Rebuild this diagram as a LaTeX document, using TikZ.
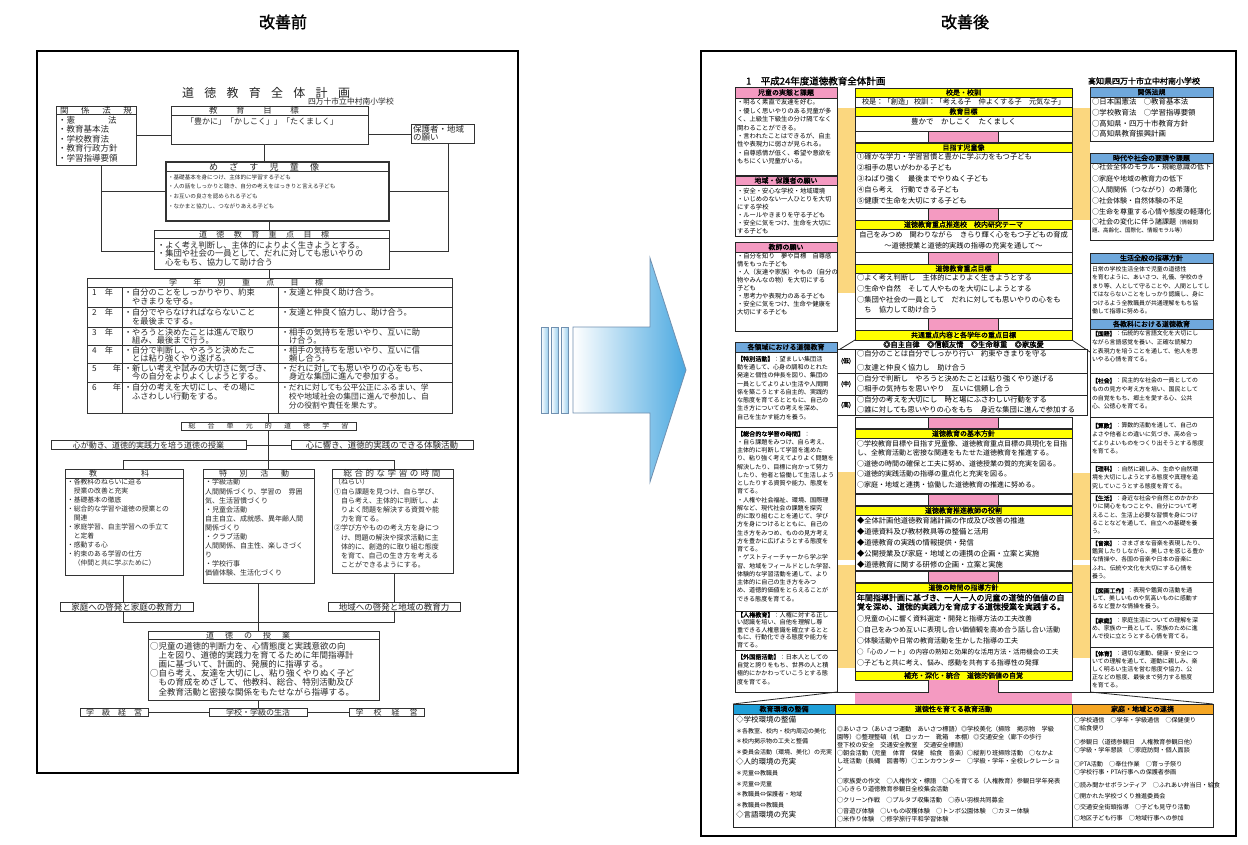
\documentclass[tikz,border=0pt]{standalone}
\usepackage{fontspec}
\setmainfont{Noto Sans CJK JP}[AutoFakeBold=1.5]
\newcommand\fsz[2]{\fontsize{#1}{#2}\selectfont}
\newcommand\sprd[2]{\makebox[#1pt][s]{#2}}
\definecolor{hy}{HTML}{FFFF00}
\definecolor{pk}{HTML}{F49AC1}
\definecolor{bl}{HTML}{6FA8DC}
\definecolor{cy}{HTML}{1E9FD8}
\definecolor{og}{HTML}{F5A623}
\definecolor{tn}{HTML}{FBD77F}
\definecolor{ab}{HTML}{4AA8E0}
\definecolor{ao}{HTML}{7090B0}
\tikzset{
 every node/.style={inner sep=0pt, outer sep=0pt},
 tl/.style={anchor=north west, align=left},
 ln/.style={draw=black!80, line width=0.7pt},
 lbx/.style={draw=black!80, line width=0.7pt, fill=white},
 rbx/.style={draw=black!85, line width=0.8pt},
 hd/.style={draw=black!85, line width=0.8pt, anchor=north west, font=\fsz{7}{7}\bfseries},
}
\newcommand\hbx[7]{\node[hd, fill=#6, minimum width=#4pt, minimum height=#5pt] (#1) at (#2,#3) {#7};}
\newcommand\pkrow[2]{\draw[rbx, fill=white] (855,#1) rectangle (1072,#2); \draw[rbx, fill=pk] (928,#1) rectangle (998,#2);}
\begin{document}
\begin{tikzpicture}[x=1pt,y=-1pt]
\useasboundingbox (0,0) rectangle (1248,845);
\fill[white] (0,0) rectangle (1248,845);
\node[font=\fsz{16}{16}\bfseries] (t1) at (283,22) {改善前};
\node[font=\fsz{16}{16}\bfseries] (t2) at (965,22) {改善後};

%================ LEFT DOCUMENT =================
\draw[line width=1.6pt] (37,51) rectangle (518,773);
\begin{scope}[black!85]
\node[font=\fsz{12}{12}] (ltit) at (266,93) {\sprd{168}{道\hfill 徳\hfill 教\hfill 育\hfill 全\hfill 体\hfill 計\hfill 画}};
\node[anchor=west, font=\fsz{7.8}{8}] (lsch) at (308,102) {四万十市立中村南小学校};
% connectors
\draw[ln] (136,135) -- (171,135);
\draw[ln] (368,134) -- (411,134);
\draw[ln] (264,144) -- (264,162);
\draw[ln] (101,165) -- (101,251) -- (154,251);
\draw[ln] (448,143) -- (448,251) -- (389,251);
\draw[ln] (101,191) -- (166,191);
\draw[ln] (389,191) -- (448,191);
\draw[ln] (269,221) -- (269,230);
\draw[ln] (269,269) -- (269,278);
\draw[ln] (268,413) -- (268,469);
\draw[ln] (246,445) -- (291,445);
\draw[ln] (123,469) -- (123,460) -- (394,460) -- (394,469);
\draw[ln] (123,575) -- (123,622) -- (394,622) -- (394,573);
\draw[ln] (258,583) -- (258,712);
\draw[ln] (148,712) -- (349,712);
% 関係法規
\draw[lbx] (56,106) rectangle (136,165);
\draw[ln] (56,114) -- (136,114);
\node[font=\fsz{8.5}{8.5}] (lkh) at (96,110) {\sprd{72}{関\hfill 係\hfill 法\hfill 規}};
\node[tl, font=\fsz{8.5}{9.6}] (lk) at (58,116) {・\sprd{50}{憲\hfill 法}\\・教育基本法\\・学校教育法\\・教育行政方針\\・学習指導要領};
% 教育目標
\draw[lbx] (171,106) rectangle (368,144);
\draw[ln] (171,115) -- (368,115);
\node[font=\fsz{8.5}{8.5}] (lmh) at (254,110.5) {\sprd{90}{教\hfill 育\hfill 目\hfill 標}};
\node[anchor=west, font=\fsz{8}{8}] (lm) at (186,121) {「豊かに」「かしこく」」「たくましく」};
% 保護者
\draw[lbx] (411,124) rectangle (474,143);
\node[tl, font=\fsz{8.5}{8.8}] (lho) at (413,125) {保護者・地域\\の願い};
% めざす児童像
\draw[lbx, line width=1.5pt] (166,162) rectangle (389,221);
\draw[ln, line width=1pt] (166,172) -- (389,172);
\node[font=\fsz{9}{9}] (lzh) at (264,167) {\sprd{110}{め\hfill ざ\hfill す\hfill 児\hfill 童\hfill 像}};
\node[tl, font=\fsz{5.6}{9.7}] (lz) at (168,174.5) {・基礎基本を身につけ、主体的に学習する子ども\\・人の話をしっかりと聴き、自分の考えをはっきりと言える子ども\\・お互いの良さを認められる子ども\\・なかまと協力し、つながりあえる子ども};
% 道徳教育重点目標
\draw[lbx] (154,230) rectangle (389,269);
\draw[ln] (154,238) -- (389,238);
\node[font=\fsz{8}{8}] (ljh) at (264,234) {\sprd{130}{道\hfill 徳\hfill 教\hfill 育\hfill 重\hfill 点\hfill 目\hfill 標}};
\node[tl, font=\fsz{8.3}{8.7}] (lj) at (157,241) {・よく考え判断し、主体的によりよく生きようとする。\\・集団や社会の一員として、だれに対しても思いやりの\\　心をもち、協力して助け合う};
% 学年別重点目標
\draw[lbx] (87,278) rectangle (452,413);
\draw[ln] (87,287) -- (452,287);
\foreach \yy in {307,327,345,363,382} \draw[ln] (87,\yy) -- (452,\yy);
\draw[ln] (122,287) -- (122,413);
\draw[ln] (278,287) -- (278,413);
\node[font=\fsz{8}{8}] (lgh) at (246,282.5) {\sprd{154}{学\hfill 年\hfill 別\hfill 重\hfill 点\hfill 目\hfill 標}};
\begin{scope}[every node/.append style={tl, font=\fsz{8.2}{8.2}}]
\node (g1a) at (92,289) {1　年};
\node (g1b) at (124,289) {・自分のことをしっかりやり、約束\\　やきまりを守る。};
\node (g1c) at (281,289) {・友達と仲良く助け合う。};
\node (g2a) at (92,309) {2　年};
\node (g2b) at (124,309) {・自分でやらなければならないこと\\　を最後までする。};
\node (g2c) at (281,309) {・友達と仲良く協力し、助け合う。};
\node (g3a) at (92,328.5) {3　年};
\node (g3b) at (124,328.5) {・やろうと決めたことは進んで取り\\　組み、最後まで行う。};
\node (g3c) at (281,328.5) {・相手の気持ちを思いやり、互いに助\\　け合う。};
\node (g4a) at (92,346.5) {4　年};
\node (g4b) at (124,346.5) {・自分で判断し、やろうと決めたこ\\　とは粘り強くやり遂げる。};
\node (g4c) at (281,346.5) {・相手の気持ちを思いやり、互いに信\\　頼し合う。};
\node (g5a) at (92,364.5) {5　　年};
\node (g5b) at (124,364.5) {・新しい考えや試みの大切さに気づき、\\　今の自分をよりよくしようとする。};
\node (g5c) at (281,364.5) {・だれに対しても思いやりの心をもち、\\　身近な集団に進んで参加する。};
\node (g6a) at (92,384) {6　　年};
\node (g6b) at (124,384) {・自分の考えを大切にし、その場に\\　ふさわしい行動をする。};
\node[font=\fsz{7.8}{9.2}] (g6c) at (281,384) {・だれに対しても公平公正にふるまい、学\\　校や地域社会の集団に進んで参加し、自\\　分の役割や責任を果たす。};
\end{scope}
% 総合単元的道徳学習
\node[lbx, minimum width=175pt, minimum height=8pt, anchor=north west, font=\fsz{7}{7}] (lsg) at (181,422) {\sprd{160}{総\hfill 合\hfill 単\hfill 元\hfill 的\hfill 道\hfill 徳\hfill 学\hfill 習}};
\node[lbx, minimum width=195pt, minimum height=9pt, anchor=north west, font=\fsz{8}{8}] (lkok) at (51,440.5) {心が動き、道徳的実践力を培う道徳の授業};
\node[lbx, minimum width=182pt, minimum height=9pt, anchor=north west, font=\fsz{8.5}{8.5}] (lhib) at (291,440.5) {心に響き、道徳的実践のできる体験活動};
% 教科
\draw[lbx] (65,469) rectangle (183,575);
\draw[ln] (65,478) -- (183,478);
\node[font=\fsz{8}{8}] (lkyh) at (119,473.5) {\sprd{60}{教\hfill 科}};
\node[tl, font=\fsz{6.8}{9}] (lky) at (67,479) {・各教科のねらいに迫る\\　授業の改善と充実\\・基礎基本の徹底\\・総合的な学習や道徳の授業との\\　関連\\・家庭学習、自主学習への手立て\\　と定着\\・感動する心\\・約束のある学習の仕方\\　（仲間と共に学ぶために）};
% 特別活動
\draw[lbx] (203,469) rectangle (314,583);
\draw[ln] (203,478) -- (314,478);
\node[font=\fsz{8}{8}] (ltkh) at (254,473.5) {\sprd{70}{特\hfill 別\hfill 活\hfill 動}};
\node[tl, font=\fsz{7}{9.1}] (ltk) at (205,479) {・学級活動\\人間関係づくり、学習の　雰囲\\気、生活習慣づくり\\・児童会活動\\自主自立、成就感、異年齢人間\\関係づくり\\・クラブ活動\\人間関係、自主性、楽しさづく\\り\\・学校行事\\価値体験、生活化づくり};
% 総合的な学習の時間
\draw[lbx] (332,469) rectangle (453,573);
\draw[ln] (332,478) -- (453,478);
\node[font=\fsz{8.5}{8.5}] (lsoh) at (392,473.5) {\sprd{97}{総\hfill 合\hfill 的\hfill な\hfill 学\hfill 習\hfill の\hfill 時\hfill 間}};
\node[tl, font=\fsz{7}{9.2}] (lso) at (334,479) {（ねらい）\\①自ら課題を見つけ、自ら学び、\\　自ら考え、主体的に判断し、よ\\　りよく問題を解決する資質や能\\　力を育てる。\\②学び方やものの考え方を身につ\\　け、問題の解決や探求活動に主\\　体的に、創造的に取り組む態度\\　を育て、自己の生き方を考える\\　ことができるようにする。};
% 家庭/地域
\node[lbx, minimum width=133pt, minimum height=9pt, anchor=north west, font=\fsz{8.5}{8.5}] (lkat) at (60,602.5) {家庭への啓発と家庭の教育力};
\node[lbx, minimum width=132pt, minimum height=9pt, anchor=north west, font=\fsz{8.5}{8.5}] (lchi) at (328,602.5) {地域への啓発と地域の教育力};
% 道徳の授業
\draw[lbx] (148,631) rectangle (379,700);
\draw[ln] (148,639) -- (379,639);
\node[font=\fsz{8}{8}] (ldjh) at (248,635) {\sprd{84}{道\hfill 徳\hfill の\hfill 授\hfill 業}};
\node[tl, font=\fsz{8.5}{9.2}] (ldj) at (150,642) {○児童の道徳的判断力を、心情態度と実践意欲の向\\　上を図り、道徳的実践力を育てるために年間指導計\\　画に基づいて、計画的、発展的に指導する。\\○自ら考え、友達を大切にし、粘り強くやりぬく子ど\\　もの育成をめざして、他教科、総合、特別活動及び\\　全教育活動と密接な関係をもたせながら指導する。};
% bottom row
\node[lbx, minimum width=68pt, minimum height=8.5pt, anchor=north west, font=\fsz{8}{8}] (lgk) at (80,708) {\sprd{56}{学\hfill 級\hfill 経\hfill 営}};
\node[lbx, minimum width=98pt, minimum height=8.5pt, anchor=north west, font=\fsz{8}{8}] (lgs) at (209,708) {学校・学級の生活};
\node[lbx, minimum width=75pt, minimum height=8.5pt, anchor=north west, font=\fsz{8}{8}] (lgke) at (349,708) {\sprd{62}{学\hfill 校\hfill 経\hfill 営}};
\end{scope}

%================ ARROW =================
\foreach \bx in {541,551,561}
  \draw[left color=white, right color=ab!55, draw=ao, line width=0.8pt] (\bx,327) rectangle ++(7,86);
\draw[left color=white, right color=ab, draw=ao, line width=0.8pt] (573,327) -- (650,327) -- (650,258) -- (686,370) -- (650,482) -- (650,413) -- (573,413) -- cycle;

%================ RIGHT DOCUMENT =================
\draw[line width=1.6pt] (701,51) rectangle (1236,836);
\node[anchor=west, font=\fsz{9.5}{9.5}\bfseries] (rtit) at (746,81) {1　平成24年度道徳教育全体計画};
\node[anchor=east, font=\fsz{8}{8}\bfseries] (rsch) at (1200,81) {高知県四万十市立中村南小学校};
% tan strips
\fill[tn] (837,108) rectangle (855,293);
\fill[tn] (1072,108) rectangle (1090,220);
\fill[tn] (837,472) rectangle (855,560);
\fill[tn] (837,565) rectangle (855,668);
\fill[tn] (1072,473) rectangle (1090,560);
\fill[tn] (1072,565) rectangle (1090,658);
% left column
\hbx{h1}{735}{87}{102}{11}{pk}{児童の実態と課題}
\draw[rbx] (735,98) rectangle (837,175);
\node[tl, font=\fsz{6.3}{8.4}] (x1) at (737,99.5) {・明るく素直で友達を好む。\\・優しく思いやりのある児童が多\\く、上級生下級生の分け隔てなく\\関わることができる。\\・言われたことはできるが、自主\\性や表現力に弱さが見られる。\\・自尊感情が低く、希望や意欲を\\もちにくい児童がいる。};
\hbx{h2}{735}{176}{102}{9}{pk}{地域・保護者の願い}
\draw[rbx] (735,185) rectangle (837,236);
\node[tl, font=\fsz{6.3}{7.9}] (x2) at (737,188.5) {・安全・安心な学校・地域環境\\・いじめのない一人ひとりを大切\\にする学校\\・ルールやきまりを守る子ども\\・安全に気をつけ、生命を大切に\\する子ども};
\hbx{h3}{735}{242}{102}{10}{pk}{教師の願い}
\draw[rbx] (735,252) rectangle (837,331);
\node[tl, font=\fsz{6.3}{8}] (x3) at (737,253.5) {・自分を知り　夢や目標　自尊感\\情をもった子ども\\・人（友達や家族）やもの（自分の\\物やみんなの物）を大切にする\\子ども\\・思考力や表現力のある子ども\\・安全に気をつけ、生命や健康を\\大切にする子ども};
\hbx{h4}{735}{342}{102}{10}{bl}{各領域における道徳教育}
\draw[rbx] (735,352) rectangle (837,692);
\draw[rbx] (735,427) -- (837,427);
\draw[rbx] (735,611) -- (837,611);
\draw[rbx] (735,650) -- (837,650);
\draw[rbx] (837,351) -- (855,340);
\node[tl, font=\fsz{6.1}{8.3}] (x4) at (737,356) {{\bfseries【特別活動】}：望ましい集団活\\動を通して、心身の調和のとれた\\発達と個性の伸長を図り、集団の\\一員としてよりよい生活や人間関\\係を築こうとする自主的、実践的\\な態度を育てるとともに、自己の\\生き方についての考えを深め、\\自己を生かす能力を養う。};
\node[tl, font=\fsz{6.1}{8.25}] (x5) at (737,431) {{\bfseries【総合的な学習の時間】}：\\・自ら課題をみつけ、自ら考え、\\主体的に判断して学習を進めた\\り、粘り強く考えてよりよく問題を\\解決したり、目標に向かって努力\\したり、他者と協働して生活しよう\\としたりする資質や能力、態度を\\育てる。\\・人権や社会福祉、環境、国際理\\解など、現代社会の課題を探究\\的に取り組むことを通じて、学び\\方を身につけるとともに、自己の\\生き方をみつめ、ものの見方考え\\方を豊かに広げようとする態度を\\育てる。\\・ゲストティーチャーから学ぶ学\\習、地域をフィールドとした学習、\\体験的な学習活動を通して、より\\主体的に自己の生き方をみつ\\め、道徳的価値をとらえることが\\できる態度を育てる。};
\node[tl, font=\fsz{6.1}{7.6}] (x6) at (737,612) {{\bfseries【人権教育】}：人権に対する正し\\い認識を培い、自他を理解し尊\\重できる人権意識を確立するとと\\もに、行動化できる態度や能力を\\育てる。};
\node[tl, font=\fsz{6.1}{8.4}] (x7) at (737,654) {{\bfseries【外国語活動】}：日本人としての\\自覚と誇りをもち、世界の人と積\\極的にかかわっていこうとする態\\度を育てる。};
% central column
\hbx{c1}{855}{88}{217}{9}{hy}{校是・校訓}
\draw[rbx, fill=white] (855,97) rectangle (1072,107);
\node[font=\fsz{7.2}{7.2}] (c1t) at (963.5,102) {校是：「創造」 校訓：「考える子　仲よくする子　元気な子」};
\hbx{c2}{855}{107}{217}{9}{hy}{教育目標}
\draw[rbx, fill=white] (855,116) rectangle (1072,131);
\node[font=\fsz{7.5}{7.5}] (c2t) at (963.5,122) {豊かで　かしこく　たくましく};
\pkrow{131}{142}
\hbx{c3}{855}{143}{217}{9}{hy}{目指す児童像}
\draw[rbx, fill=white] (855,152) rectangle (1072,208);
\node[tl, font=\fsz{7.3}{11}] (c3t) at (857,153.5) {①確かな学力・学習習慣と豊かに学ぶ力をもつ子ども\\②相手の思いがわかる子ども\\③ねばり強く　最後までやりぬく子ども\\④自ら考え　行動できる子ども\\⑤健康で生命を大切にする子ども};
\pkrow{208}{220}
\hbx{c4}{855}{220}{217}{9}{hy}{道徳教育重点推進校　校内研究テーマ}
\draw[rbx, fill=white] (855,229) rectangle (1072,252);
\node[font=\fsz{7.2}{7.2}] (c4a) at (963.5,235) {自己をみつめ　関わりながら　きらり輝く心をもつ子どもの育成};
\node[font=\fsz{7.2}{7.2}] (c4b) at (963.5,245.5) {～道徳授業と道徳的実践の指導の充実を通して～};
\pkrow{252}{264}
\hbx{c5}{855}{264}{217}{9}{hy}{道徳教育重点目標}
\draw[rbx, fill=white] (855,273) rectangle (1072,318);
\node[tl, font=\fsz{7.3}{11}] (c5t) at (857,274.5) {○よく考え判断し　主体的によりよく生きようとする\\○生命や自然　そして人やものを大切にしようとする\\○集団や社会の一員として　だれに対しても思いやりの心をも\\[-1.5pt]　ち　協力して助け合う};
\pkrow{318}{330}
\hbx{c6}{855}{330}{217}{10}{hy}{共通重点内容と各学年の重点目標}
\draw[rbx] (1072,340) -- (1090,352);
\node[font=\fsz{7.3}{7.3}\bfseries] (c6t) at (963.5,344.5) {◎自主自律　◎信頼友情　◎生命尊重　◎家族愛};
\draw[rbx, fill=white] (837,349) rectangle (1087,415);
\draw[rbx] (837,373) -- (1087,373);
\draw[rbx] (837,395) -- (1087,395);
\draw[rbx] (855,349) -- (855,415);
\node[font=\fsz{6}{6}\bfseries] (gl) at (846,361) {(低)};
\node[font=\fsz{6}{6}\bfseries] (gm) at (846,384) {(中)};
\node[font=\fsz{6}{6}\bfseries] (gh) at (846,405) {(高)};
\node[tl, font=\fsz{7.3}{13.5}] (glt) at (857,350.5) {○自分のことは自分でしっかり行い　約束やきまりを守る\\○友達と仲良く協力し　助け合う};
\node[tl, font=\fsz{7.3}{10}] (gmt) at (857,375.5) {○自分で判断し　やろうと決めたことは粘り強くやり遂げる\\○相手の気持ちを思いやり　互いに信頼し合う};
\node[tl, font=\fsz{7.3}{9.5}] (ght) at (857,396.5) {○自分の考えを大切にし　時と場にふさわしい行動をする\\○誰に対しても思いやりの心をもち　身近な集団に進んで参加する};
\pkrow{417}{428}
\hbx{c7}{855}{429}{217}{9}{hy}{道徳教育の基本方針}
\draw[rbx, fill=white] (855,438) rectangle (1072,493);
\node[tl, font=\fsz{7}{9}] (c7t) at (857,440.5) {○学校教育目標や目指す児童像、道徳教育重点目標の具現化を目指\\し、全教育活動と密接な関連をもたせた道徳教育を推進する。\\[2pt]○道徳の時間の確保と工夫に努め、道徳授業の質的充実を図る。\\[1.5pt]○道徳的実践活動の指導の重点化と充実を図る。\\[1.5pt]○家庭・地域と連携・協働した道徳教育の推進に努める。};
\pkrow{494}{505}
\hbx{c8}{855}{506}{217}{9}{hy}{道徳教育推進教師の役割}
\draw[rbx, fill=white] (855,515) rectangle (1072,570);
\node[tl, font=\fsz{7.3}{11}] (c8t) at (857,517.5) {◆全体計画他道徳教育諸計画の作成及び改善の推進\\◆道徳資料及び教材教具等の整備と活用\\◆道徳教育の実践の情報提供・発信\\◆公開授業及び家庭・地域との連携の企画・立案と実施\\◆道徳教育に関する研修の企画・立案と実施};
\pkrow{571}{582}
\hbx{c9}{855}{583}{217}{9}{hy}{道徳の時間の指導方針}
\draw[rbx, fill=white] (855,592) rectangle (1072,671);
\node[tl, font=\fsz{8}{9}\bfseries] (c9a) at (857,594) {年間指導計画に基づき、一人一人の児童の道徳的価値の自\\覚を深め、道徳的実践力を育成する道徳授業を実践する。};
\node[tl, font=\fsz{7}{11}] (c9b) at (857,615.5) {○児童の心に響く資料選定・開発と指導方法の工夫改善\\○自己をみつめ互いに表現し合い価値観を高め合う話し合い活動\\○体験活動や日常の教育活動を生かした指導の工夫\\{\fsz{6.5}{6.5}○「心のノート」の内容の熟知と効果的な活用方法・活用機会の工夫}\\○子どもと共に考え、悩み、感動を共有する指導性の発揮};
\hbx{c10}{855}{671}{217}{9}{hy}{補充・深化・統合　道徳的価値の自覚}
% funnel
\fill[pk] (928,680) rectangle (998,692);
\fill[pk] (855,692) rectangle (1072,704);
\draw[rbx] (837,680) -- (837,692) -- (928,692) -- (928,680);
\draw[rbx] (998,680) -- (998,692) -- (1090,692);
\draw[rbx] (733,704) -- (837,692);
\draw[rbx] (1090,692) -- (1213,704);
% right column
\hbx{r1}{1090}{87}{123}{10}{bl}{関係法規}
\draw[rbx] (1090,97) rectangle (1213,141);
\node[tl, font=\fsz{7.4}{10.7}] (r1t) at (1092,98.5) {○日本国憲法　○教育基本法\\○学校教育法　○学習指導要領\\○高知県・四万十市教育方針\\○高知県教育振興計画};
\hbx{r2}{1090}{153}{123}{10}{bl}{時代や社会の要請や課題}
\draw[rbx] (1090,163) rectangle (1213,240);
\node[tl, font=\fsz{7}{11.2}] (r2t) at (1092,164) {○社会全体のモラル・規範意識の低下\\○家庭や地域の教育力の低下\\○人間関係（つながり）の希薄化\\○社会体験・自然体験の不足\\○生命を尊重する心情や態度の軽薄化\\[-1pt]○社会の変化に伴う諸課題{\fsz{5.5}{5.5}（情報問}\\[-3.5pt]{\fsz{5.5}{5.5}題、高齢化、国際化、情報モラル等）}};
\hbx{r3}{1090}{253}{123}{10}{bl}{生活全般の指導方針}
\draw[rbx] (1090,263) rectangle (1213,319);
\node[tl, font=\fsz{5.9}{8.4}] (r3t) at (1092,266.5) {日常の学校生活全体で児童の道徳性\\を育むように、あいさつ、礼儀、学校のき\\まり等、人として守ることや、人間としてし\\てはならないことをしっかり認識し、身に\\つけるよう全教職員が共通理解をもち協\\働して指導に努める。};
\hbx{r4}{1090}{319}{123}{10}{bl}{各教科における道徳教育}
\draw[rbx] (1090,329) rectangle (1213,692);
\foreach \yy in {373,417,462,493,538,582,613,647} \draw[rbx] (1090,\yy) -- (1213,\yy);
\begin{scope}[every node/.append style={tl, font=\fsz{5.9}{8.6}}]
\node (s1) at (1092,331) {{\bfseries【国語】}：伝統的な言語文化を大切にし\\ながら言語感覚を養い、正確な読解力\\と表現力を培うことを通して、他人を思\\いやる心情を育てる。};
\node (s2) at (1092,378) {{\bfseries【社会】}：民主的な社会の一員としての\\ものの見方や考え方を培い、国民として\\の自覚をもち、郷土を愛する心、公共\\心、公徳心を育てる。};
\node (s3) at (1092,423) {{\bfseries【算数】}：算数的活動を通して、自己の\\よさや他者との違いに気づき、高め合っ\\てよりよいものをつくり出そうとする態度\\を育てる。};
\node (s4) at (1092,466) {{\bfseries【理科】}：自然に親しみ、生命や自然環\\境を大切にしようとする態度や真理を追\\究していこうとする態度を育てる。};
\node[font=\fsz{5.9}{8.3}] (s5) at (1092,495.5) {{\bfseries【生活】}：身近な社会や自然とのかかわ\\りに関心をもつことや、自分について考\\えること、生活上必要な習慣を身につけ\\ることなどを通して、自立への基礎を養\\う。};
\node[font=\fsz{5.9}{8.2}] (s6) at (1092,540.5) {{\bfseries【音楽】}：さまざまな音楽を表現したり、\\鑑賞したりしながら、美しさを感じる豊か\\な情操や、各国の音楽や日本の音楽に\\ふれ、伝統や文化を大切にする心情を\\養う。};
\node[font=\fsz{5.9}{7.8}] (s7) at (1092,588) {{\bfseries【図画工作】}：表現や鑑賞の活動を通\\して、美しいものや気高いものに感動す\\るなど豊かな情操を養う。};
\node[font=\fsz{5.9}{8}] (s8) at (1092,618) {{\bfseries【家庭】}：家庭生活についての理解を深\\め、家族の一員として、家族のために進\\んで役に立とうとする心情を育てる。};
\node[font=\fsz{5.9}{8}] (s9) at (1092,651) {{\bfseries【体育】}：適切な運動、健康・安全につ\\いての理解を通して、運動に親しみ、楽\\しく明るい生活を営む態度や協力、公\\正などの態度、最後まで努力する態度\\を育てる。};
\end{scope}
% bottom table
\hbx{b1}{733}{704}{102}{10}{cy}{教育環境の整備}
\hbx{b2}{835}{704}{237}{10}{hy}{道徳性を育てる教育活動}
\hbx{b3}{1072}{704}{141}{10}{og}{家庭・地域との連携}
\draw[rbx] (733,714) rectangle (1213,827);
\draw[rbx] (835,714) -- (835,827);
\draw[rbx] (1072,714) -- (1072,827);
\node[tl, font=\fsz{6}{10.6}] (b1t) at (736,716) {{\fsz{7.5}{7.5}◇学校環境の整備}\\＊各教室、校内・校内周辺の美化\\＊校内掲示物の工夫と整備\\＊委員会活動（環境、美化）の充実\\{\fsz{7.5}{7.5}◇人的環境の充実}\\＊児童⇔教職員\\＊児童⇔児童\\＊教職員⇔保護者・地域\\＊教職員⇔教職員\\{\fsz{7.5}{7.5}◇言語環境の充実}};
\begin{scope}[every node/.append style={tl, font=\fsz{6.2}{8.2}}]
\node (m1) at (837,726) {◎あいさつ（あいさつ運動　あいさつ標語）◎学校美化（掃除　掲示物　学級\\園等）◎整理整頓（机　ロッカー　靴箱　本棚）◎交通安全（廊下の歩行\\登下校の安全　交通安全教室　交通安全標語）};
\node (m2) at (837,750) {○朝会活動（児童　体育　保健　給食　音楽）○縦割り班掃除活動　○なかよ\\し班活動（長縄　図書等）○エンカウンター　○学級・学年・全校レクレーショ\\ン};
\node (m3) at (837,778) {○家族愛の作文　○人権作文・標語　○心を育てる（人権教育）参観日学年発表\\○心きらり道徳教育参観日全校集会活動};
\node (m4) at (837,797) {○クリーン作戦　○プルタブ収集活動　○赤い羽根共同募金};
\node (m5) at (837,808.5) {○音遊び体験　○いもの収穫体験　○トンボ公園体験　○カヌー体験\\○米作り体験　○修学旅行平和学習体験};
\end{scope}
\begin{scope}[every node/.append style={tl, font=\fsz{6.1}{8}}]
\node (o1) at (1074,717) {○学校通信　○学年・学級通信　○保健便り\\○給食便り};
\node (o2) at (1074,739) {○参観日（道徳参観日　人権教育参観日他）\\○学級・学年懇談　○家庭訪問・個人面談};
\node (o3) at (1074,761) {○PTA活動　○奉仕作業　○育っ子祭り\\○学校行事・PTA行事への保護者参画};
\node (o4) at (1074,782) {○読み聞かせボランティア　○ふれあい弁当日・給食};
\node (o5) at (1074,793) {○開かれた学校づくり推進委員会};
\node (o6) at (1074,804) {○交通安全街頭指導　○子ども見守り活動};
\node (o7) at (1074,815) {○地区子ども行事　○地域行事への参加};
\end{scope}
\end{tikzpicture}
\end{document}
